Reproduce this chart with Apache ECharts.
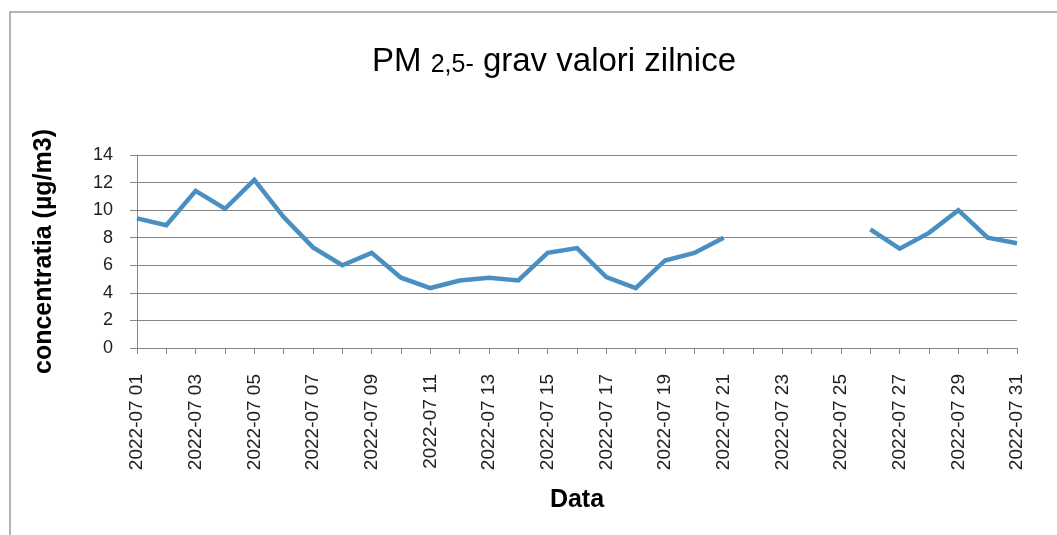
<!DOCTYPE html>
<html>
<head>
<meta charset="utf-8">
<script src="https://cdn.jsdelivr.net/npm/echarts@6/dist/echarts.min.js"></script>
<style>
  html, body { margin: 0; padding: 0; background: #fff; }
  #main { width: 1057px; height: 535px; }
</style>
</head>
<body>
<div id="main"></div>
<script>
var days = [];
for (var d = 1; d <= 31; d++) {
    days.push('2022-07 ' + (d < 10 ? '0' + d : d));
}
// zilele 22-25 lipsa
var values = [9.4, 8.9, 11.4, 10.1, 12.2, 9.5, 7.3, 6.0, 6.9, 5.1,
              4.35, 4.9, 5.1, 4.9, 6.9, 7.25, 5.15, 4.35, 6.35, 6.9,
              8.0, null, null, null, null, 8.6, 7.2, 8.35, 10.0, 8.0,
              7.6];
var yTicks = { min: 0, max: 14, interval: 2 };

var myChart = echarts.init(document.getElementById('main'));

var option = {
    animation: false,
    backgroundColor: '#fff',
    textStyle: { fontFamily: 'Liberation Sans, Arial, sans-serif' },
    graphic: [
        {
            type: 'rect',
            shape: { x: 10, y: 12, width: 1200, height: 700 },
            style: { fill: 'none', stroke: '#9a9a9a', lineWidth: 1.5 },
            silent: true
        }
    ],
    title: {
        left: 549,
        top: 40,
        textAlign: 'center',
        text: '{a|PM }{b|2,5-}{a| grav valori zilnice}',
        textStyle: {
            fontWeight: 'normal',
            rich: {
                a: { fontSize: 33, fontWeight: 'normal', color: '#000', fontFamily: 'Liberation Sans, Arial, sans-serif' },
                b: { fontSize: 25, fontWeight: 'normal', color: '#000', fontFamily: 'Liberation Sans, Arial, sans-serif', verticalAlign: 'bottom', padding: [4, 0, 0, 0] }
            }
        }
    },
    grid: {
        left: 137,
        right: 40,
        top: 155,
        bottom: 187,
        containLabel: false
    },
    xAxis: {
        type: 'category',
        data: days,
        boundaryGap: false,
        name: 'Data',
        nameLocation: 'middle',
        nameGap: 140,
        nameTextStyle: { fontSize: 25, fontWeight: 'bold', color: '#000' },
        axisLine: { lineStyle: { color: '#868686', width: 1 } },
        axisTick: { show: true, interval: 0, length: 6, lineStyle: { color: '#868686' } },
        axisLabel: {
            interval: 1,
            rotate: 90,
            margin: 26,
            fontSize: 19,
            color: '#222'
        },
        splitLine: { show: false }
    },
    yAxis: {
        type: 'value',
        min: yTicks.min,
        max: yTicks.max,
        interval: yTicks.interval,
        name: 'concentratia (µg/m3)',
        nameLocation: 'middle',
        nameGap: 80,
        nameTextStyle: { fontSize: 25, fontWeight: 'bold', color: '#000' },
        axisLine: { show: true, lineStyle: { color: '#868686', width: 1 } },
        axisTick: { show: true, length: 7, lineStyle: { color: '#868686' } },
        axisLabel: { margin: 24, fontSize: 18, color: '#222' },
        splitLine: { lineStyle: { color: '#868686', width: 1 } }
    },
    series: [
        {
            name: 'PM 2,5',
            type: 'line',
            data: values,
            connectNulls: false,
            symbol: 'none',
            lineStyle: { color: '#4A8FC2', width: 4.5, join: 'miter' },
            itemStyle: { color: '#4A8FC2' }
        }
    ]
};

myChart.setOption(option);
</script>
</body>
</html>
